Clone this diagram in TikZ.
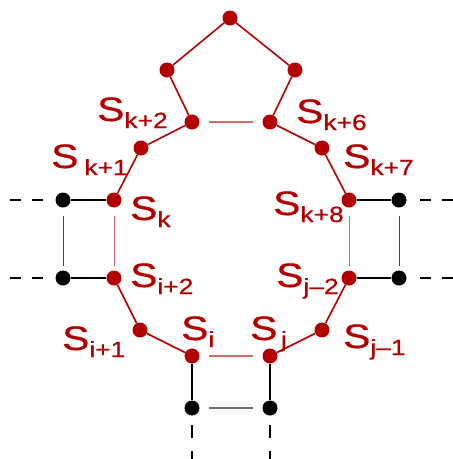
\documentclass[tikz,border=0pt]{standalone}
\usepackage{fontspec}
\usepackage{graphicx}
\setmainfont{Liberation Sans}
\newfontfamily\labfont{Liberation Sans}[FakeBold=0.6]
\definecolor{dred}{RGB}{178,0,0}
\definecolor{lred}{RGB}{212,105,105}
\definecolor{lgray}{RGB}{110,110,110}
\definecolor{dgray}{RGB}{70,70,70}
\newcommand\lab[3]{\scalebox{1.2}[1]{\labfont\fontsize{34}{34}\selectfont S\hspace{#1}\raisebox{-7pt}{\fontsize{22}{22}\selectfont #2}}#3}
\tikzset{
  rdot/.style={circle,fill=dred,inner sep=0pt,minimum size=15pt},
  bdot/.style={circle,fill=black,inner sep=0pt,minimum size=15pt},
  redge/.style={draw=dred,line width=1.6pt},
  bedge/.style={draw=black,line width=1.7pt},
  ledge/.style={draw=lred,line width=1.5pt,shorten <=9pt,shorten >=9pt},
  lvedge/.style={draw=lred,line width=1pt,shorten <=8pt,shorten >=4pt},
  gvedge/.style={draw=dgray,line width=1pt,shorten <=8pt,shorten >=4pt},
  gedge/.style={draw=lgray,line width=1.6pt,shorten <=9pt,shorten >=9pt},
  dedge/.style={draw=black,line width=1.6pt,dash pattern=on 11pt off 11pt,shorten >=5pt},
  vdedge/.style={draw=black,line width=1.6pt,dash pattern=on 13pt off 13pt,shorten >=5pt},
  lbl/.style={text=dred,inner sep=0pt,anchor=base west}
}
\begin{document}
\begin{tikzpicture}[x=1pt,y=-1pt]
\useasboundingbox (0,0) rectangle (453,459);
% red nodes
\node[rdot] (top) at (230,18) {};
\node[rdot] (pl) at (167,70) {};
\node[rdot] (pr) at (295,70) {};
\node[rdot] (k2) at (192,122) {};
\node[rdot] (k6) at (270,122) {};
\node[rdot] (k1) at (141,148) {};
\node[rdot] (k7) at (322,148) {};
\node[rdot] (k) at (114,200) {};
\node[rdot] (k8) at (349,200) {};
\node[rdot] (i2) at (114,278) {};
\node[rdot] (j2) at (349,278) {};
\node[rdot] (i1) at (140,330) {};
\node[rdot] (j1) at (322,330) {};
\node[rdot] (i) at (192,356) {};
\node[rdot] (j) at (270,356) {};
% black nodes
\node[bdot] (bl1) at (63,200) {};
\node[bdot] (br1) at (399,200) {};
\node[bdot] (bl2) at (63,278) {};
\node[bdot] (br2) at (399,278) {};
\node[bdot] (bb1) at (192,408) {};
\node[bdot] (bb2) at (270,408) {};
% free ends
\coordinate (el1) at (10,200);
\coordinate (el2) at (10,278);
\coordinate (er1) at (453,200);
\coordinate (er2) at (453,278);
\coordinate (eb1) at (192,464);
\coordinate (eb2) at (270,464);
% red edges
\draw[redge] (top) -- (pl);
\draw[redge] (top) -- (pr);
\draw[redge] (pl) -- (k2);
\draw[redge] (pr) -- (k6);
\draw[redge] (k2) -- (k1);
\draw[redge] (k1) -- (k);
\draw[redge] (k6) -- (k7);
\draw[redge] (k7) -- (k8);
\draw[redge] (i2) -- (i1);
\draw[redge] (i1) -- (i);
\draw[redge] (j2) -- (j1);
\draw[redge] (j1) -- (j);
% light red edges
\draw[ledge] (k2) -- (k6);
\draw[ledge] (i) -- (j);
\draw[lvedge] (k) -- (i2);
\draw[lvedge] (k8) -- (j2);
% black edges
\draw[bedge] (bl1) -- (k);
\draw[bedge] (bl2) -- (i2);
\draw[bedge] (k8) -- (br1);
\draw[bedge] (j2) -- (br2);
\draw[bedge] (i) -- (bb1);
\draw[bedge] (j) -- (bb2);
% gray edges
\draw[gvedge] (bl1) -- (bl2);
\draw[gvedge] (br1) -- (br2);
\draw[gedge] (bb1) -- (bb2);
% dashed
\draw[dedge] (el1) -- (bl1);
\draw[dedge] (el2) -- (bl2);
\draw[dedge] (er1) -- (br1);
\draw[dedge] (er2) -- (br2);
\draw[vdedge] (eb1) -- (bb1);
\draw[vdedge] (eb2) -- (bb2);
% labels
\node[lbl] (lk2) at (97,121) {\lab{0pt}{k+2}{}};
\node[lbl] (lk1) at (51,168) {\lab{5pt}{k+1}{}};
\node[lbl] (lk) at (130,220) {\lab{0pt}{k}{}};
\node[lbl] (lk6) at (296,123) {\lab{0pt}{k+6}{}};
\node[lbl] (lk7) at (343,168) {\lab{0pt}{k+7}{}};
\node[lbl] (lk8) at (273,215) {\lab{0pt}{k+8}{}};
\node[lbl] (li2) at (130,287) {\lab{0pt}{i+2}{}};
\node[lbl] (lj2) at (276,287) {\lab{0pt}{j–2}{}};
\node[lbl] (li1) at (62,350) {\lab{0pt}{i+1}{}};
\node[lbl] (lj1) at (343,348) {\lab{0pt}{j–1}{}};
\node[lbl] (li) at (181,340) {\lab{0pt}{i}{}};
\node[lbl] (lj) at (250,340) {\lab{3pt}{j}{}};
\end{tikzpicture}
\end{document}
